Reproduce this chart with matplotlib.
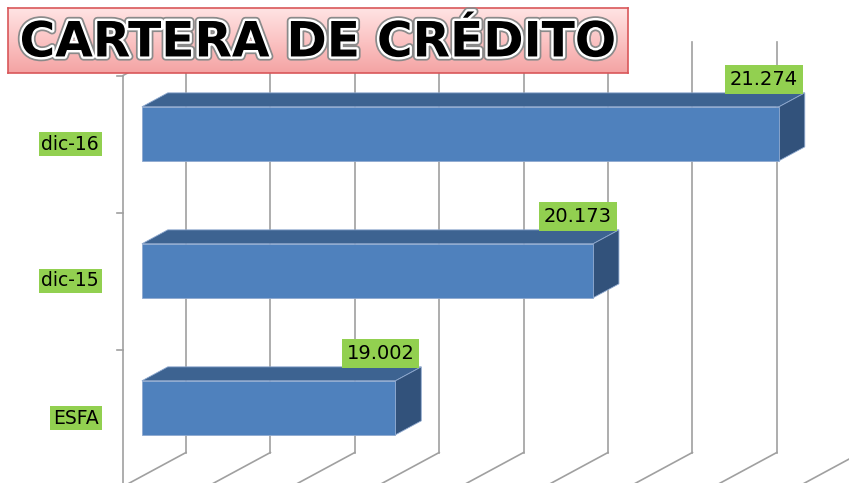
import matplotlib
matplotlib.use('Agg')
import matplotlib.pyplot as plt
from matplotlib.patches import Polygon, Rectangle
from matplotlib.colors import LinearSegmentedColormap
import matplotlib.patheffects as pe
import numpy as np

# ---- data ----
categories = ['ESFA', 'dic-15', 'dic-16']
values = [19002, 20173, 21274]
value_labels = ['19.002', '20.173', '21.274']
title = 'CARTERA DE CRÉDITO'
axis_min, axis_max, axis_step = 17500, 21500, 500

# ---- layout (pixels) ----
W, H = 849, 483
S = 0.1688            # px per value unit
X0PX = 123            # px of axis_min on front plane
Y_TOP_CAT_PX = 144    # px of top category centre (front plane)
CAT_PX = 137          # px per category
DEPTH_PX = (63, 34)   # depth direction (right, up)
F0, F1 = 0.30, 0.71   # bar depth fraction
HALF_H = 27 / CAT_PX  # bar half height in category units

n = len(categories)
fig = plt.figure(figsize=(W / 100, H / 100), dpi=100)
ax = fig.add_axes([0, 0, 1, 1])
ax.set_xlim(axis_min - X0PX / S, axis_min + (W - X0PX) / S)
top_c = n - 1
ax.set_ylim(top_c - (H - Y_TOP_CAT_PX) / CAT_PX, top_c + Y_TOP_CAT_PX / CAT_PX)
ax.axis('off')

DX = DEPTH_PX[0] / S
DY = DEPTH_PX[1] / CAT_PX
ylo, yhi = -0.5, n - 0.5

grid_col = '#a0a0a0'
# back-wall gridlines + floor diagonals
for g in np.arange(axis_min, axis_max + 1, axis_step):
    ax.plot([g + DX, g + DX], [ylo + DY, yhi + DY], color=grid_col, lw=1.2, zorder=1)
    ax.plot([g, g + DX], [ylo, ylo + DY], color=grid_col, lw=1.2, zorder=1)
# left wall front edge and top diagonal
ax.plot([axis_min, axis_min], [ylo, yhi], color=grid_col, lw=1.2, zorder=1)
ax.plot([axis_min, axis_min + DX], [yhi, yhi + DY], color=grid_col, lw=1.2, zorder=1)
# category ticks
for b in np.arange(ylo, yhi + 0.01, 1.0):
    ax.plot([axis_min - 6 / S, axis_min], [b, b], color=grid_col, lw=1.2, zorder=1)

front_col = '#4F81BD'
top_col = '#3D6391'
side_col = '#32527B'
edge_col = '#8FA9CF'

for c, (cat, v, lab) in enumerate(zip(categories, values, value_labels)):
    x_a = axis_min + F0 * DX
    x_b = v + F0 * DX
    y_lo = c - HALF_H + F0 * DY
    y_hi = c + HALF_H + F0 * DY
    ddx = (F1 - F0) * DX
    ddy = (F1 - F0) * DY
    # top face
    ax.add_patch(Polygon([(x_a, y_hi), (x_b, y_hi), (x_b + ddx, y_hi + ddy), (x_a + ddx, y_hi + ddy)],
                         closed=True, facecolor=top_col, edgecolor=edge_col, lw=0.6, zorder=3))
    # side face
    ax.add_patch(Polygon([(x_b, y_lo), (x_b + ddx, y_lo + ddy), (x_b + ddx, y_hi + ddy), (x_b, y_hi)],
                         closed=True, facecolor=side_col, edgecolor=edge_col, lw=0.6, zorder=3))
    # front face
    ax.add_patch(Rectangle((x_a, y_lo), x_b - x_a, y_hi - y_lo,
                           facecolor=front_col, edgecolor=edge_col, lw=0.6, zorder=4))
    # value label
    ax.text(x_b + ddx - 7 / S, y_hi + ddy + 4 / CAT_PX, lab, ha='right', va='bottom',
            fontsize=14, color='black', zorder=6,
            bbox=dict(boxstyle='square,pad=0.25', facecolor='#92D050', edgecolor='none'))
    # category label
    ax.text(axis_min - 24 / S, c, cat, ha='right', va='center', fontsize=13.5, color='black',
            zorder=6, bbox=dict(boxstyle='square,pad=0.15', facecolor='#92D050', edgecolor='none'))

# ---- title box ----
tb = fig.add_axes([8 / W, 1 - 73 / H, 620 / W, 65 / H])
grad = np.linspace(0, 1, 100).reshape(-1, 1)
cmap = LinearSegmentedColormap.from_list('pinkgrad', ['#FFE3E3', '#FBC4C4', '#F4A3A3'])
tb.imshow(grad, aspect='auto', cmap=cmap, extent=[0, 1, 0, 1], origin='upper')
tb.set_xlim(0, 1)
tb.set_ylim(0, 1)
tb.set_xticks([])
tb.set_yticks([])
for sp in tb.spines.values():
    sp.set_color('#D9575A')
    sp.set_linewidth(1.2)
tb.set_zorder(5)
txt = tb.text(0.5, 0.47, title, ha='center', va='center', fontsize=35, fontweight='bold',
              color='black', transform=tb.transAxes)
txt.set_path_effects([pe.Stroke(linewidth=6, foreground='#8a8a8a'),
                      pe.Stroke(linewidth=3.5, foreground='white'),
                      pe.Normal()])

fig.savefig('out.png', dpi=100)
